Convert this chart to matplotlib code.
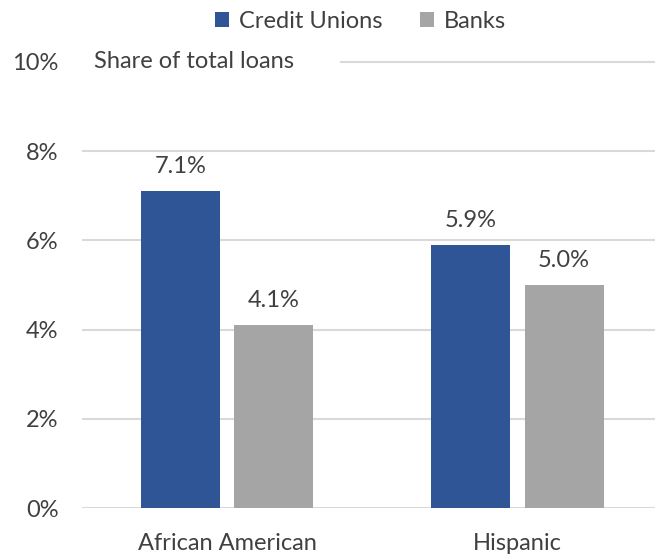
import matplotlib
matplotlib.use("Agg")
import matplotlib.pyplot as plt
import numpy as np

categories = ["African American", "Hispanic"]
credit_unions = [7.1, 5.9]
banks = [4.1, 5.0]
yticks = [0, 2, 4, 6, 8, 10]

plt.rcParams['font.family'] = ['Lato', 'DejaVu Sans']
txt = '#404040'
cu_color = '#2F5597'
bk_color = '#A5A5A5'
grid_color = '#D9D9D9'
fs = 17

fig = plt.figure(figsize=(6.55, 5.56), dpi=100)
ax = fig.add_axes([0.1252, 0.0863, 0.8748, 0.8022])

x = np.arange(len(categories))
w = 0.272
off = 0.161
b1 = ax.bar(x - off, credit_unions, w, color=cu_color, label='Credit Unions', zorder=3)
b2 = ax.bar(x + off, banks, w, color=bk_color, label='Banks', zorder=3)

for bars, vals in ((b1, credit_unions), (b2, banks)):
    for r, v in zip(bars, vals):
        ax.annotate(f"{v:.1f}%", (r.get_x() + r.get_width() / 2, v),
                    xytext=(0, 10), textcoords='offset points', ha='center', va='bottom',
                    fontsize=fs, color=txt)

ax.set_ylim(0, 10)
ax.set_xlim(-0.5, 1.474)
ax.set_yticks(yticks)
ax.set_yticklabels([f"{t}%" for t in yticks], fontsize=fs, color=txt)
ax.set_xticks(x)
ax.set_xticklabels(categories, fontsize=fs, color=txt)
ax.tick_params(length=0)
ax.tick_params(axis='y', pad=17)
ax.tick_params(axis='x', pad=18)
for s in ax.spines.values():
    s.set_visible(False)

for t in yticks[:-1]:
    ax.axhline(t, color=grid_color, lw=1.5, zorder=1)
ax.axhline(10, xmin=0.452, xmax=1, color=grid_color, lw=1.5, zorder=1, clip_on=False)
ax.text(0.021, 10, "Share of total loans", transform=ax.get_yaxis_transform(),
        ha='left', va='center', fontsize=fs, color=txt)

fig.legend(handles=[b1, b2], loc='center', bbox_to_anchor=(0.55, 0.962), ncol=2,
           frameon=False, fontsize=fs, handlelength=0.6, handleheight=0.6,
           handletextpad=0.4, columnspacing=1.6, labelcolor=txt)

fig.savefig("out.png", dpi=100)
